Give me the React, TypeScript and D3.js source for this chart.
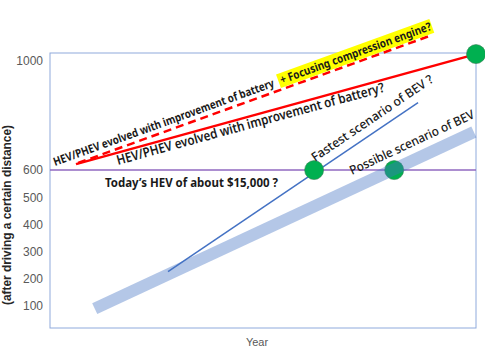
import React from "react";
import * as d3 from "d3";

const W = 485;
const H = 360;
const X_DOMAIN = [0, 10];
const Y_DOMAIN = [20, 1030];
const yTicks = [100, 200, 300, 400, 500, 600, 1000];

// series: [x (year index), value]
const todayHEV: [number, number][] = [[0, 600], [10, 600]];
const hevBattery: [number, number][] = [[0.61, 622], [10, 1026]];
const hevCompression: [number, number][] = [[0.66, 626], [8.97, 1096]];
const fastestBEV: [number, number][] = [[2.77, 227], [8.64, 848]];
const possibleBEV: [number, number][] = [[1.05, 91], [9.95, 740]];
const milestones: [number, number][] = [[6.2, 600], [8.08, 600], [10, 1026]];

const labelCompressionA = "HEV/PHEV evolved with improvement of battery ";
const labelCompressionB = "+ Focusing compression engine?";
const labelBattery = "HEV/PHEV evolved with improvement of battery?";
const labelToday = "Today\u2019s HEV of about $15,000 ?";
const labelFastest = "Fastest scenario of BEV ?";
const labelPossible = "Possible scenario of BEV";
const yTitle = "(after driving a certain distance)";
const xTitle = "Year";

const M = { left: 50, top: 53, right: 476, bottom: 328 };

export default function App() {
  const x = d3.scaleLinear().domain(X_DOMAIN).range([M.left, M.right]);
  const y = d3.scaleLinear().domain(Y_DOMAIN).range([M.bottom, M.top]);
  const line = d3
    .line<[number, number]>()
    .x((d) => x(d[0]))
    .y((d) => y(d[1]));

  const angle = (pts: [number, number][]) => {
    const dx = x(pts[1][0]) - x(pts[0][0]);
    const dy = y(pts[1][1]) - y(pts[0][1]);
    return (Math.atan2(dy, dx) * 180) / Math.PI;
  };

  const font = "'Noto Sans', 'DejaVu Sans', sans-serif";
  const aComp = angle(hevCompression);
  const aBat = angle(hevBattery);
  const aFast = angle(fastestBEV);
  const aPoss = angle(possibleBEV);

  return (
    <svg width={W} height={H} style={{ position: "absolute", left: 0, top: 0, background: "#fff" }}>
      <rect x={M.left} y={M.top} width={M.right - M.left} height={M.bottom - M.top} fill="none" stroke="#8faadc" strokeWidth={1} />
      {yTicks.map((t) => (
        <text key={t} x={43} y={y(t)} dy="0.35em" textAnchor="end" fontSize={12} fill="#595959" fontFamily="'Liberation Sans', Arial, sans-serif">
          {t}
        </text>
      ))}
      <text x={257} y={346} textAnchor="middle" fontSize={11} fill="#595959" fontFamily="'Liberation Sans', Arial, sans-serif">{xTitle}</text>
      <text transform={`translate(11,215) rotate(-90)`} textAnchor="middle" fontSize={12} fontWeight="bold" fill="#262626" fontFamily="'Liberation Sans', Arial, sans-serif" textLength={180} lengthAdjust="spacingAndGlyphs">{yTitle}</text>

      <path d={line(todayHEV)!} stroke="#9068c0" strokeWidth={1.5} fill="none" />
      <path d={line(hevCompression)!} stroke="#ff0000" strokeWidth={2.5} strokeDasharray="8,5" fill="none" />
      <path d={line(hevBattery)!} stroke="#ff0000" strokeWidth={2.5} fill="none" />
      <path d={line(fastestBEV)!} stroke="#4472c4" strokeWidth={1.5} fill="none" />
      {milestones.map((d, i) => (
        <circle key={i} cx={x(d[0])} cy={y(d[1])} r={9.5} fill="#00b050" stroke="#3a7d55" strokeWidth={0.6} />
      ))}
      <path d={line(possibleBEV)!} stroke="#4472c4" strokeOpacity={0.4} strokeWidth={12} fill="none" />

      <g transform={`translate(55,166) rotate(${aComp})`} fontFamily={font} fontWeight="bold" fontSize={11.5} fill="#1a1a1a">
        <rect x={239} y={-11} width={163} height={14.5} fill="#ffff00" />
        <text x={0} y={0} textLength={234} lengthAdjust="spacingAndGlyphs">{labelCompressionA}</text>
        <text x={241} y={0} textLength={160} lengthAdjust="spacingAndGlyphs">{labelCompressionB}</text>
      </g>
      <text transform={`translate(118,165) rotate(${aBat})`} fontFamily={font} fontWeight={600} fontSize={13.5} fill="#1a1a1a" textLength={277} lengthAdjust="spacingAndGlyphs">{labelBattery}</text>
      <text x={105} y={187} fontFamily={font} fontWeight="bold" fontSize={12.5} fill="#1a1a1a" textLength={173} lengthAdjust="spacingAndGlyphs">{labelToday}</text>
      <text transform={`translate(315,162) rotate(${aFast})`} fontFamily={font} fontWeight={500} fontSize={12.5} fill="#1a1a1a" textLength={144} lengthAdjust="spacingAndGlyphs">{labelFastest}</text>
      <text transform={`translate(352,175) rotate(${aPoss})`} fontFamily={font} fontWeight={500} fontSize={12.5} fill="#1a1a1a" textLength={136} lengthAdjust="spacingAndGlyphs">{labelPossible}</text>
    </svg>
  );
}
